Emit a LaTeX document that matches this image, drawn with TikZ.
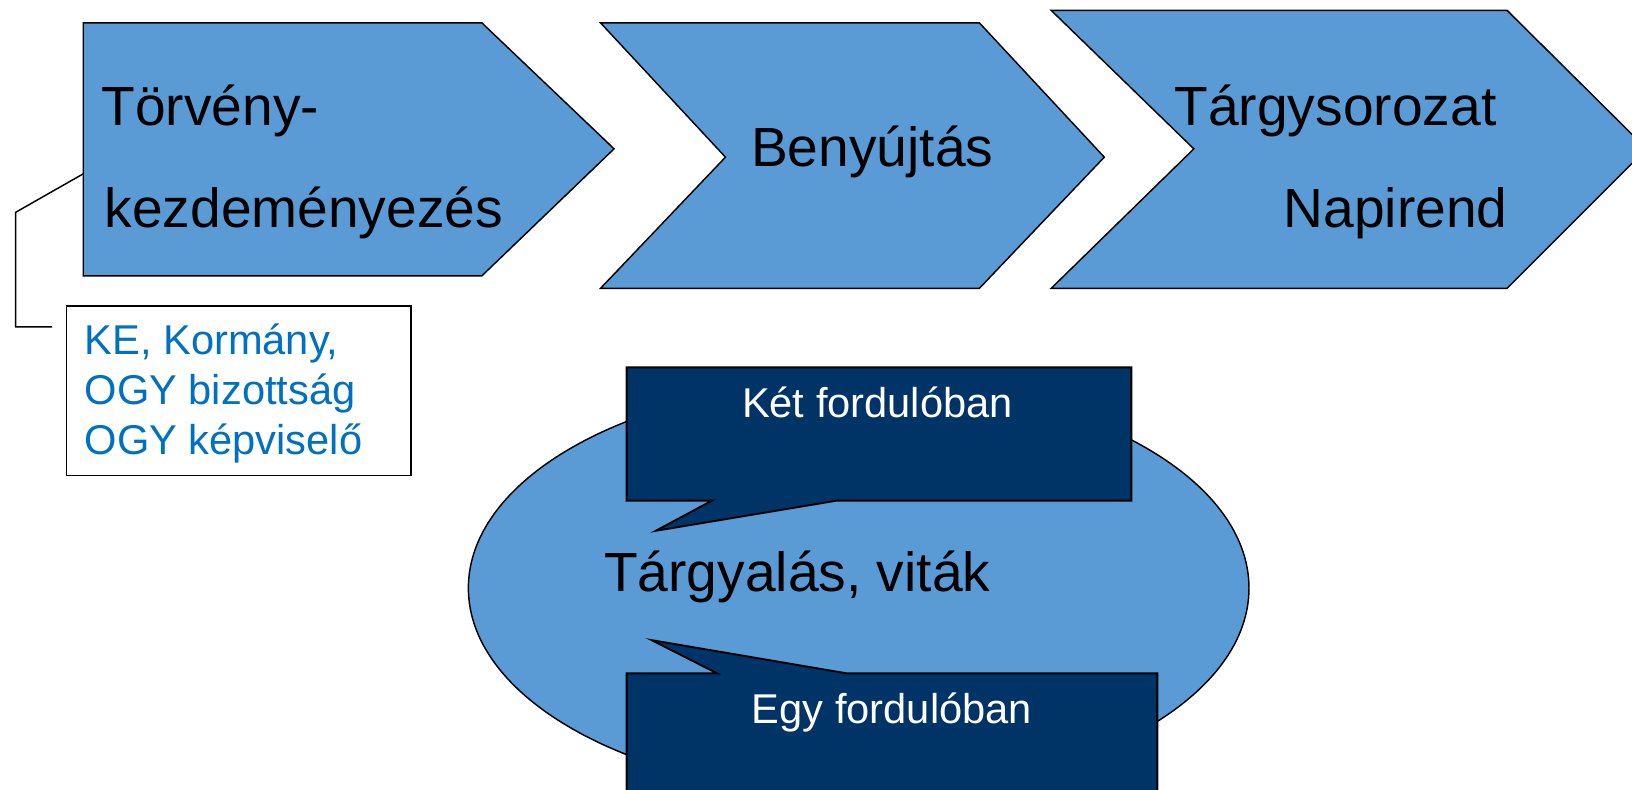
\documentclass[tikz,border=0pt]{standalone}
\usepackage{fontspec}
\setmainfont{Liberation Sans}
\usetikzlibrary{calc}
\definecolor{stepblue}{HTML}{5B9BD5}
\definecolor{navy}{HTML}{003366}
\definecolor{textblue}{HTML}{0070C0}

\begin{document}
\begin{tikzpicture}[x=0.5pt,y=-0.5pt,
	chevron/.style={fill=stepblue,draw=black,line width=0.7pt},
	bubble/.style={fill=navy,draw=black,line width=0.9pt},
	bigtext/.style={font=\fontsize{26.5}{32}\selectfont,inner sep=0pt,anchor=base west},
	smalltext/.style={font=\fontsize{20}{24}\selectfont,inner sep=0pt}]
					\useasboundingbox (0,0) rectangle (1568,759);
					%CHEVRONS
					\draw[chevron] (80,22) -- (463,22) -- (590,143) -- (463,265) -- (80,265) -- cycle;
					\draw[chevron] (577,22) -- (941,22) -- (1061,151) -- (941,277) -- (577,277) -- (697,151) -- cycle;
					\draw[chevron] (1010,10) -- (1448,10) -- (1582,143) -- (1448,277) -- (1010,277) -- (1147,143) -- cycle;
					\node[bigtext] (torveny) at (97,121) {Törvény-};
					\node[bigtext] (kezdemenyezes) at (100,219) {kezdeményezés};
					\node[bigtext,anchor=base] (benyujtas) at (838,160) {Benyújtás};
					\node[bigtext] (targysorozat) at (1128,121) {Tárgysorozat};
					\node[bigtext] (napirend) at (1233,219) {Napirend};
					%KEZDEMENYEZOK
					\coordinate (kezd) at (80,167);
					\coordinate (kezdend) at (50,314);
					\draw[line width=0.7pt] (kezd) -- (15,204) -- (15,314) -- (kezdend);
					\node[draw=black,fill=white,line width=0.7pt,minimum width=165.5pt,minimum height=81.5pt] (kebox) at (229.5,375.5) {};
					\node[smalltext,anchor=base west,text=textblue] (ke) at (81,341) {KE, Kormány,};
					\node[smalltext,anchor=base west,text=textblue] (ogyb) at (81,389) {OGY bizottság};
					\node[smalltext,anchor=base west,text=textblue] (ogyk) at (81,437) {OGY képviselő};
					%TARGYALAS
					\draw[fill=stepblue,draw=black,line width=0.7pt] (825,565) ellipse [x radius=375, y radius=199];
					\node[bigtext] (targyalas) at (580,568) {Tárgyalás, viták};
					\draw[bubble] (602,353) -- (1087,353) -- (1087,481) -- (804,481) -- (630,510) -- (684,481) -- (602,481) -- cycle;
					\node[smalltext,anchor=base,text=white] (ket) at (843,401) {Két fordulóban};
					\draw[bubble] (602,647) -- (689,647) -- (626,615) -- (814,647) -- (1112,647) -- (1112,775) -- (602,775) -- cycle;
					\node[smalltext,anchor=base,text=white] (egy) at (857,695) {Egy fordulóban};
\end{tikzpicture}
\end{document}
